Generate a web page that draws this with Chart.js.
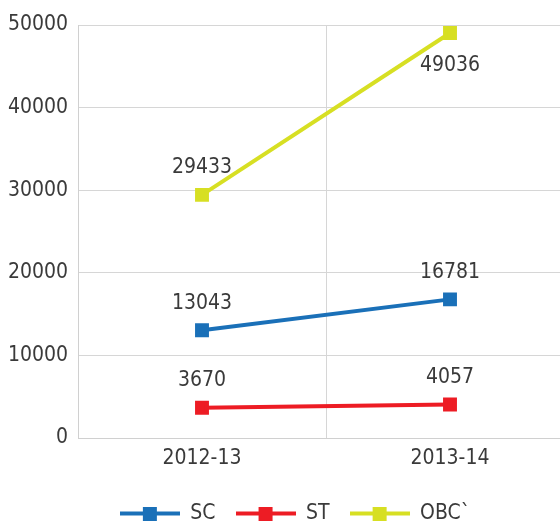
<!DOCTYPE html>
<html>
<head>
<meta charset="utf-8">
<script src="https://cdn.jsdelivr.net/npm/chart.js@4"></script>
<style>
    html, body { margin: 0; padding: 0; background: #fff; overflow: hidden; }
    #enrolChart { display: block; }
</style>
</head>
<body>
<canvas id="enrolChart" width="560" height="523"></canvas>
<script>
// 데이터
const years = ['2012-13', '2013-14'];
const scValues = [13043, 16781];
const stValues = [3670, 4057];
const obcValues = [29433, 49036];
const yTicks = [0, 10000, 20000, 30000, 40000, 50000];

const FONT = '"DejaVu Sans Condensed", "Liberation Sans Narrow", sans-serif';
const FONT_SIZE = 21;
const TEXT_COLOR = '#3a3a3a';

// 범례 아이콘 (선 + 사각형)
function legendIcon(color) {
    const c = document.createElement('canvas');
    c.width = 60;
    c.height = 14;
    const g = c.getContext('2d');
    g.fillStyle = color;
    g.fillRect(0, 5, 60, 4);
    g.fillRect(23, 0, 14, 14);
    return c;
}

// 값 라벨
const valueLabels = {
    id: 'valueLabels',
    afterDatasetsDraw(chart) {
        const ctx = chart.ctx;
        ctx.save();
        ctx.font = FONT_SIZE + 'px ' + FONT;
        ctx.fillStyle = TEXT_COLOR;
        ctx.textAlign = 'center';
        ctx.textBaseline = 'middle';
        chart.data.datasets.forEach((ds, i) => {
            chart.getDatasetMeta(i).data.forEach((pt, j) => {
                let y = pt.y - 27;
                if (y < chart.chartArea.top + 10) y = pt.y + 33;
                ctx.fillText(String(ds.data[j]), pt.x, y);
            });
        });
        ctx.restore();
    }
};

// x축을 화면 밖까지 늘리고 범례 위치 보정 (원본은 오른쪽이 잘려 있음)
const layoutFix = {
    id: 'layoutFix',
    afterLayout(chart) {
        const x = chart.scales.x;
        x.right += 14;
        x.width += 14;
        x.configure();
        chart.legend.left += 15;
        chart.legend.right += 15;
    }
};

function makeSet(label, data, color) {
    return {
        label: label,
        data: data,
        borderColor: color,
        backgroundColor: color,
        borderWidth: 4,
        pointStyle: 'rect',
        pointRadius: 7,
        pointHoverRadius: 7,
        tension: 0,
        legendIcon: legendIcon(color)
    };
}

new Chart(document.getElementById('enrolChart'), {
    type: 'line',
    data: {
        labels: years,
        datasets: [
            makeSet('SC', scValues, '#1a70b8'),
            makeSet('ST', stValues, '#ed1c24'),
            makeSet('OBC`', obcValues, '#d7df23')
        ]
    },
    options: {
        responsive: false,
        animation: false,
        layout: { autoPadding: false, padding: { top: 25, right: 0, bottom: -11, left: 0 } },
        plugins: {
            tooltip: { enabled: false },
            legend: {
                position: 'bottom',
                labels: {
                    usePointStyle: true,
                    pointStyleWidth: 60,
                    padding: 20,
                    color: TEXT_COLOR,
                    font: { family: FONT, size: FONT_SIZE },
                    generateLabels(chart) {
                        return chart.data.datasets.map((ds, i) => ({
                            text: ds.label,
                            pointStyle: ds.legendIcon,
                            fillStyle: ds.borderColor,
                            strokeStyle: ds.borderColor,
                            lineWidth: 0,
                            fontColor: TEXT_COLOR,
                            datasetIndex: i
                        }));
                    }
                }
            }
        },
        scales: {
            x: {
                offset: true,
                grid: { offset: true, color: '#d6d6d6', drawTicks: false },
                border: { color: '#d0d0d0' },
                ticks: {
                    padding: 8,
                    color: TEXT_COLOR,
                    font: { family: FONT, size: FONT_SIZE }
                },
                afterFit(scale) { scale.height = 45; }
            },
            y: {
                min: 0,
                max: 50000,
                afterBuildTicks(scale) {
                    scale.ticks = yTicks.map(v => ({ value: v }));
                },
                grid: { color: '#d6d6d6', drawTicks: false },
                border: { color: '#d0d0d0' },
                ticks: {
                    padding: 10,
                    color: TEXT_COLOR,
                    font: { family: FONT, size: FONT_SIZE },
                    callback: v => String(v)
                },
                afterFit(scale) { scale.width = 78; }
            }
        }
    },
    plugins: [valueLabels, layoutFix]
});
</script>
</body>
</html>
